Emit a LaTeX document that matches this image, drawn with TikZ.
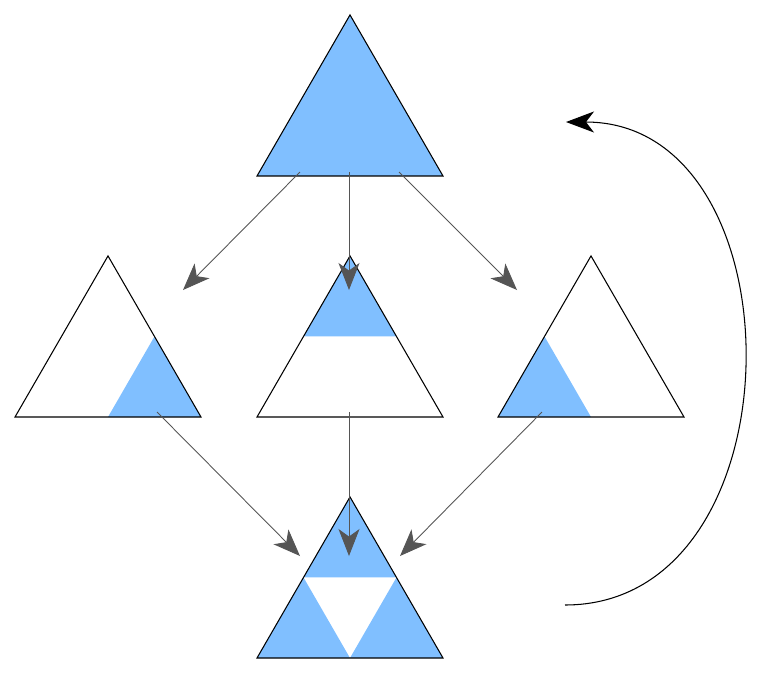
\documentclass[tikz,border=0pt]{standalone}
\usepackage{tikz}
\usetikzlibrary{shapes.geometric,arrows.meta,calc,backgrounds}
\definecolor{triblue}{RGB}{128,191,255}
\definecolor{linkgray}{RGB}{85,85,85}
\tikzset{
  tri/.style  ={regular polygon, regular polygon sides=3, minimum size=4.296cm,
                inner sep=0pt, outer sep=0pt, draw=black, line width=0.6pt},
  part/.style ={fill=triblue, draw=none},
  link/.style ={-{Stealth[length=5.4mm, width=4.2mm, inset=1.5mm]}, draw=linkgray,
                line width=0.5pt},
  loop/.style ={-{Stealth[length=5.6mm, width=4.2mm, inset=1.6mm]}, draw=black,
                line width=0.6pt}
}

\begin{document}
\begin{tikzpicture}[x=0.02cm, y=-0.02cm]
\useasboundingbox (0,0) rectangle (764,674);

% Triangles (centroids)
\node[tri] (top) at (350,122.3) {};
\node[tri] (lft) at (108,363.3) {};
\node[tri] (mid) at (350,363.3) {};
\node[tri] (rgt) at (591,363.3) {};
\node[tri] (bot) at (350,604.3) {};

% Blue parts
\begin{scope}[on background layer]
\fill[part] (top.corner 1) -- (top.corner 2) -- (top.corner 3) -- cycle;
\fill[part] ($(lft.corner 1)!0.5!(lft.corner 3)$) -- (lft.corner 3)
            -- ($(lft.corner 2)!0.5!(lft.corner 3)$) -- cycle;
\fill[part] (mid.corner 1) -- ($(mid.corner 1)!0.5!(mid.corner 2)$)
            -- ($(mid.corner 1)!0.5!(mid.corner 3)$) -- cycle;
\fill[part] ($(rgt.corner 1)!0.5!(rgt.corner 2)$) -- (rgt.corner 2)
            -- ($(rgt.corner 2)!0.5!(rgt.corner 3)$) -- cycle;
\fill[part] (bot.corner 1) -- ($(bot.corner 1)!0.5!(bot.corner 2)$)
            -- ($(bot.corner 1)!0.5!(bot.corner 3)$) -- cycle;
\fill[part] ($(bot.corner 1)!0.5!(bot.corner 2)$) -- (bot.corner 2)
            -- ($(bot.corner 2)!0.5!(bot.corner 3)$) -- cycle;
\fill[part] ($(bot.corner 1)!0.5!(bot.corner 3)$) -- (bot.corner 3)
            -- ($(bot.corner 2)!0.5!(bot.corner 3)$) -- cycle;
\end{scope}

% Arrow ends
\coordinate (t1) at (300,172);
\coordinate (t2) at (349,172);
\coordinate (t3) at (399,172);
\coordinate (e1) at (183,290);
\coordinate (e2) at (349,290);
\coordinate (e3) at (517,290);
\coordinate (m1) at (157,412);
\coordinate (m2) at (349,412);
\coordinate (m3) at (542,412);
\coordinate (b1) at (300,556);
\coordinate (b2) at (349,556);
\coordinate (b3) at (400,556);
\coordinate (lpS) at (565,605);
\coordinate (lpE) at (566,122);

\foreach \s/\e in {t1/e1,t2/e2,t3/e3,m1/b1,m2/b2,m3/b3}{\draw[link] (\s) -- (\e);}

\draw[loop] (lpS) .. controls (803,605) and (803,122) .. (lpE);
\end{tikzpicture}
\end{document}
